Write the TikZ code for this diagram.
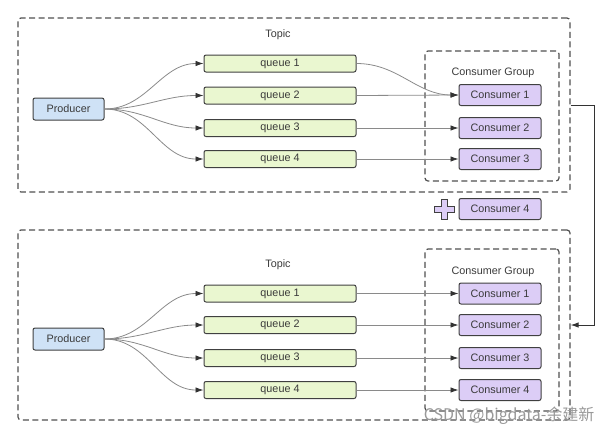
\documentclass[tikz,border=0pt]{standalone}
\usepackage{fontspec}
\setmainfont{Liberation Sans}
\newfontfamily\cjkfont{Noto Sans CJK SC}
\usepackage{xcolor}
\usetikzlibrary{arrows.meta,positioning}

\definecolor{prodblue}{HTML}{CFE2F6}
\definecolor{queuegreen}{HTML}{EAF7D0}
\definecolor{conspurple}{HTML}{DCCDF6}
\definecolor{boxline}{HTML}{404040}
\definecolor{dashgray}{HTML}{505050}
\definecolor{flowgray}{HTML}{8A8A8A}
\definecolor{tipgray}{HTML}{333333}
\definecolor{textgray}{HTML}{3A3A3A}

\tikzset{
  box/.style={draw=boxline, line width=1pt, rounded corners=2pt, text=textgray,
    font=\fontsize{10.8}{12}\selectfont, inner sep=0pt},
  producer/.style={box, fill=prodblue, minimum width=71pt, minimum height=22pt},
  queue/.style={box, fill=queuegreen, minimum width=152pt, minimum height=17pt},
  consumer/.style={box, fill=conspurple, minimum width=82pt, minimum height=21pt},
  dashbox/.style={draw=dashgray, line width=1.2pt, dash pattern=on 6pt off 3.5pt,
    rounded corners=3pt, inner sep=0pt},
  caption/.style={text=textgray, font=\fontsize{10.8}{12}\selectfont},
  flow/.style={draw=flowgray, line width=0.8pt, -{Latex[length=8pt,width=5.5pt,color=tipgray]}},
}

\begin{document}
\begin{tikzpicture}[x=1pt, y=-1pt]
    \useasboundingbox (0,0) rectangle (612,437);

    % upper topic
    \node[dashbox, minimum width=552pt, minimum height=174pt] (topicA) at (294,105) {};
    \node[dashbox, minimum width=134pt, minimum height=130pt] (groupA) at (492,116) {};
    \node[caption] (topicAlabel) at (278,35) {Topic};
    \node[caption] (groupAlabel) at (493,73) {Consumer Group};

    \node[producer] (prodA) at (68.5,109) {Producer};
    \node[queue] (qA1) at (280,63.5) {queue 1};
    \node[queue] (qA2) at (280,95.5) {queue 2};
    \node[queue] (qA3) at (280,128) {queue 3};
    \node[queue] (qA4) at (280,159) {queue 4};
    \node[consumer] (cA1) at (500,95) {Consumer 1};
    \node[consumer] (cA2) at (500,128) {Consumer 2};
    \node[consumer] (cA3) at (500,159) {Consumer 3};

    \draw[flow] (prodA.east) to[out=0, in=180] (qA1.west);
    \draw[flow] (prodA.east) to[out=0, in=180] (qA2.west);
    \draw[flow] (prodA.east) to[out=0, in=180] (qA3.west);
    \draw[flow] (prodA.east) to[out=0, in=180] (qA4.west);
    \draw[flow] (qA1.east) to[out=0, in=180] (cA1.west);
    \draw[flow] (qA2.east) -- (cA1.west);
    \draw[flow] (qA3.east) -- (cA2.west);
    \draw[flow] (qA4.east) -- (cA3.west);

    % added consumer
    \node[consumer] (cNew) at (500,209) {Consumer 4};
    \draw[draw=boxline, fill=conspurple, line width=1pt] (441,199) -- (447,199) -- (447,206)
        -- (454,206) -- (454,212) -- (447,212) -- (447,219) -- (441,219) -- (441,212)
        -- (434,212) -- (434,206) -- (441,206) -- cycle;

    % lower topic
    \node[dashbox, minimum width=552pt, minimum height=190pt] (topicB) at (294,325) {};
    \node[dashbox, minimum width=134pt, minimum height=162pt] (groupB) at (492,330) {};
    \node[caption] (topicBlabel) at (278,265) {Topic};
    \node[caption] (groupBlabel) at (493,272) {Consumer Group};

    \node[producer] (prodB) at (68.5,339) {Producer};
    \node[queue] (qB1) at (280,293.5) {queue 1};
    \node[queue] (qB2) at (280,325) {queue 2};
    \node[queue] (qB3) at (280,358) {queue 3};
    \node[queue] (qB4) at (280,390) {queue 4};
    \node[consumer] (cB1) at (500,293.5) {Consumer 1};
    \node[consumer] (cB2) at (500,325) {Consumer 2};
    \node[consumer] (cB3) at (500,358) {Consumer 3};
    \node[consumer] (cB4) at (500,390) {Consumer 4};

    \draw[flow] (prodB.east) to[out=0, in=180] (qB1.west);
    \draw[flow] (prodB.east) to[out=0, in=180] (qB2.west);
    \draw[flow] (prodB.east) to[out=0, in=180] (qB3.west);
    \draw[flow] (prodB.east) to[out=0, in=180] (qB4.west);
    \draw[flow] (qB1.east) -- (cB1.west);
    \draw[flow] (qB2.east) -- (cB2.west);
    \draw[flow] (qB3.east) -- (cB3.west);
    \draw[flow] (qB4.east) -- (cB4.west);

    % rebalance link
    \draw[draw=tipgray, line width=1pt, -{Latex[length=8pt,width=5.5pt]}]
        (topicA.east) -- ++(24,0) |- (topicB.east);

    \node[anchor=east, text=black!40, font=\cjkfont\fontsize{16}{18}\selectfont]
        (mark) at (598,416) {CSDN @bigdata-余建新};
\end{tikzpicture}
\end{document}
